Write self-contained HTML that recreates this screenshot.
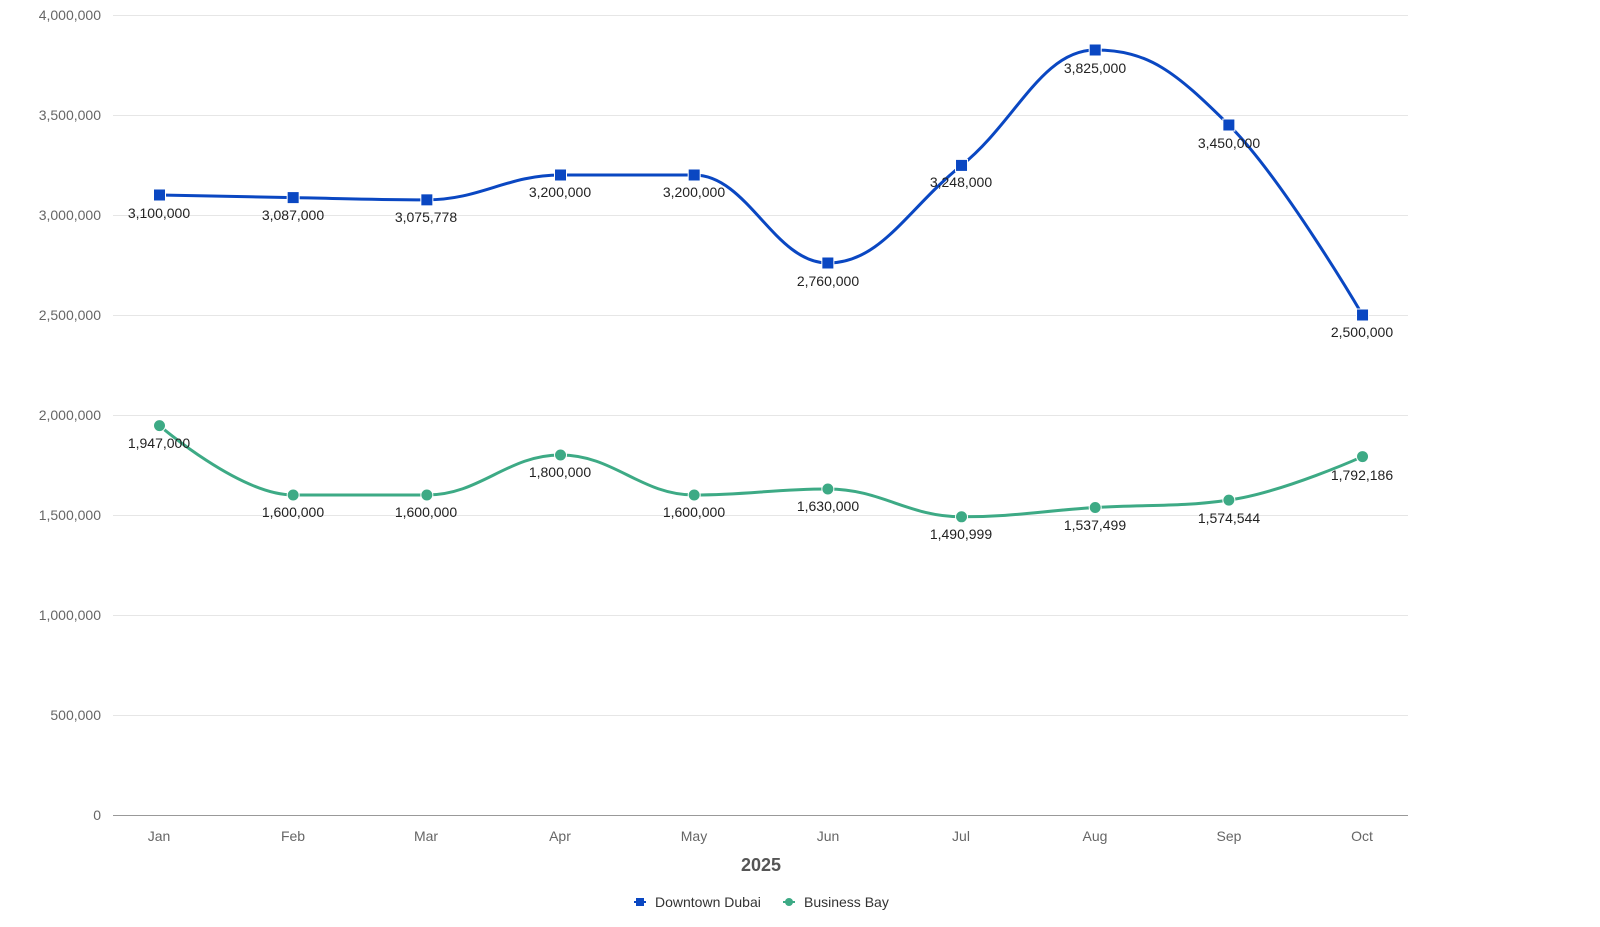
<!DOCTYPE html>
<html><head><meta charset="utf-8"><style>
body{margin:0;background:#fff;}
svg{display:block;font-family:"Liberation Sans",sans-serif;}
.ax{fill:#666;font-size:14px;}
.dl{fill:#222;font-size:14px;text-anchor:middle;}
</style></head><body>
<svg id="s" width="1600" height="927" viewBox="0 0 1600 927">
<g stroke="#e6e6e6" stroke-width="1">
<line x1="113" x2="1408" y1="15.5" y2="15.5"/><line x1="113" x2="1408" y1="115.5" y2="115.5"/>
<line x1="113" x2="1408" y1="215.5" y2="215.5"/><line x1="113" x2="1408" y1="315.5" y2="315.5"/>
<line x1="113" x2="1408" y1="415.5" y2="415.5"/><line x1="113" x2="1408" y1="515.5" y2="515.5"/>
<line x1="113" x2="1408" y1="615.5" y2="615.5"/><line x1="113" x2="1408" y1="715.5" y2="715.5"/>
</g>
<line x1="113" x2="1408" y1="815.5" y2="815.5" stroke="#999"/>
<g class="ax" text-anchor="end">
<text x="101" y="20">4,000,000</text><text x="101" y="120">3,500,000</text>
<text x="101" y="220">3,000,000</text><text x="101" y="320">2,500,000</text>
<text x="101" y="420">2,000,000</text><text x="101" y="520">1,500,000</text>
<text x="101" y="620">1,000,000</text><text x="101" y="720">500,000</text>
<text x="101" y="820">0</text>
</g>
<g class="ax" text-anchor="middle">
<text x="159" y="841">Jan</text><text x="293" y="841">Feb</text><text x="426" y="841">Mar</text>
<text x="560" y="841">Apr</text><text x="694" y="841">May</text><text x="828" y="841">Jun</text>
<text x="961" y="841">Jul</text><text x="1095" y="841">Aug</text><text x="1229" y="841">Sep</text>
<text x="1362" y="841">Oct</text>
</g>
<text x="761" y="871" text-anchor="middle" font-size="18" font-weight="bold" fill="#555">2025</text>
<path id="p1" fill="none" stroke="#0a47c2" stroke-width="3"/>
<path id="p2" fill="none" stroke="#3daa85" stroke-width="3"/>
<g id="m"></g>
<g class="dl">
<text x="159" y="218">3,100,000</text><text x="293" y="220">3,087,000</text><text x="426" y="222">3,075,778</text>
<text x="560" y="197">3,200,000</text><text x="694" y="197">3,200,000</text><text x="828" y="286">2,760,000</text>
<text x="961" y="187">3,248,000</text><text x="1095" y="73">3,825,000</text><text x="1229" y="148">3,450,000</text>
<text x="1362" y="337">2,500,000</text>
<text x="159" y="448">1,947,000</text><text x="293" y="517">1,600,000</text><text x="426" y="517">1,600,000</text>
<text x="560" y="477">1,800,000</text><text x="694" y="517">1,600,000</text><text x="828" y="511">1,630,000</text>
<text x="961" y="539">1,490,999</text><text x="1095" y="530">1,537,499</text><text x="1229" y="523">1,574,544</text>
<text x="1362" y="480">1,792,186</text>
</g>
<line x1="634" x2="646" y1="902" y2="902" stroke="#0a47c2" stroke-width="2"/>
<rect x="636" y="898" width="8" height="8" fill="#0a47c2"/>
<text x="655" y="907" font-size="14" fill="#333">Downtown Dubai</text>
<line x1="783" x2="795" y1="902" y2="902" stroke="#3daa85" stroke-width="2"/>
<circle cx="789" cy="902" r="4" fill="#3daa85"/>
<text x="804" y="907" font-size="14" fill="#333">Business Bay</text>
</svg>
<script>
var xs=[],i;for(i=0;i<10;i++)xs.push(159.5+i*133.67);
var d1=[3100000,3087000,3075778,3200000,3200000,2760000,3248000,3825000,3450000,2500000];
var d2=[1947000,1600000,1600000,1800000,1600000,1630000,1490999,1537499,1574544,1792186];
function Y(v){return 815-v/5000;}
function sp(d){var p=d.map(function(v,i){return[xs[i],Y(v)]});var s="M"+p[0][0]+" "+p[0][1];
var ctrl=[];for(var i=0;i<p.length;i++){var x=p[i][0],y=p[i][1];var lc=[x,y],rc=[x,y];
if(i>0&&i<p.length-1){var l=p[i-1],n=p[i+1],sm=1.5,dn=2.5;
var lx=(sm*x+l[0])/dn,ly=(sm*y+l[1])/dn,rx=(sm*x+n[0])/dn,ry=(sm*y+n[1])/dn;
var c=((ry-ly)*(rx-x))/(rx-lx)+y-ry;ly+=c;ry+=c;
if(ly>l[1]&&ly>y){ly=Math.max(l[1],y);ry=2*y-ly;}else if(ly<l[1]&&ly<y){ly=Math.min(l[1],y);ry=2*y-ly;}
if(ry>n[1]&&ry>y){ry=Math.max(n[1],y);ly=2*y-ry;}else if(ry<n[1]&&ry<y){ry=Math.min(n[1],y);ly=2*y-ry;}
lc=[lx,ly];rc=[rx,ry];}ctrl.push([lc,rc]);}
for(i=1;i<p.length;i++){s+=" C"+ctrl[i-1][1][0]+" "+ctrl[i-1][1][1]+" "+ctrl[i][0][0]+" "+ctrl[i][0][1]+" "+p[i][0]+" "+p[i][1];}
return s;}
document.getElementById("p1").setAttribute("d",sp(d1));
document.getElementById("p2").setAttribute("d",sp(d2));
var m="";for(i=0;i<10;i++){m+='<rect x="'+(xs[i]-6)+'" y="'+(Y(d1[i])-6)+'" width="12" height="12" fill="#0a47c2" stroke="#fff" stroke-width="1"/>';
m+='<circle cx="'+xs[i]+'" cy="'+Y(d2[i])+'" r="6" fill="#3daa85" stroke="#fff" stroke-width="1"/>';}
document.getElementById("m").innerHTML=m;
</script>
</body></html>
